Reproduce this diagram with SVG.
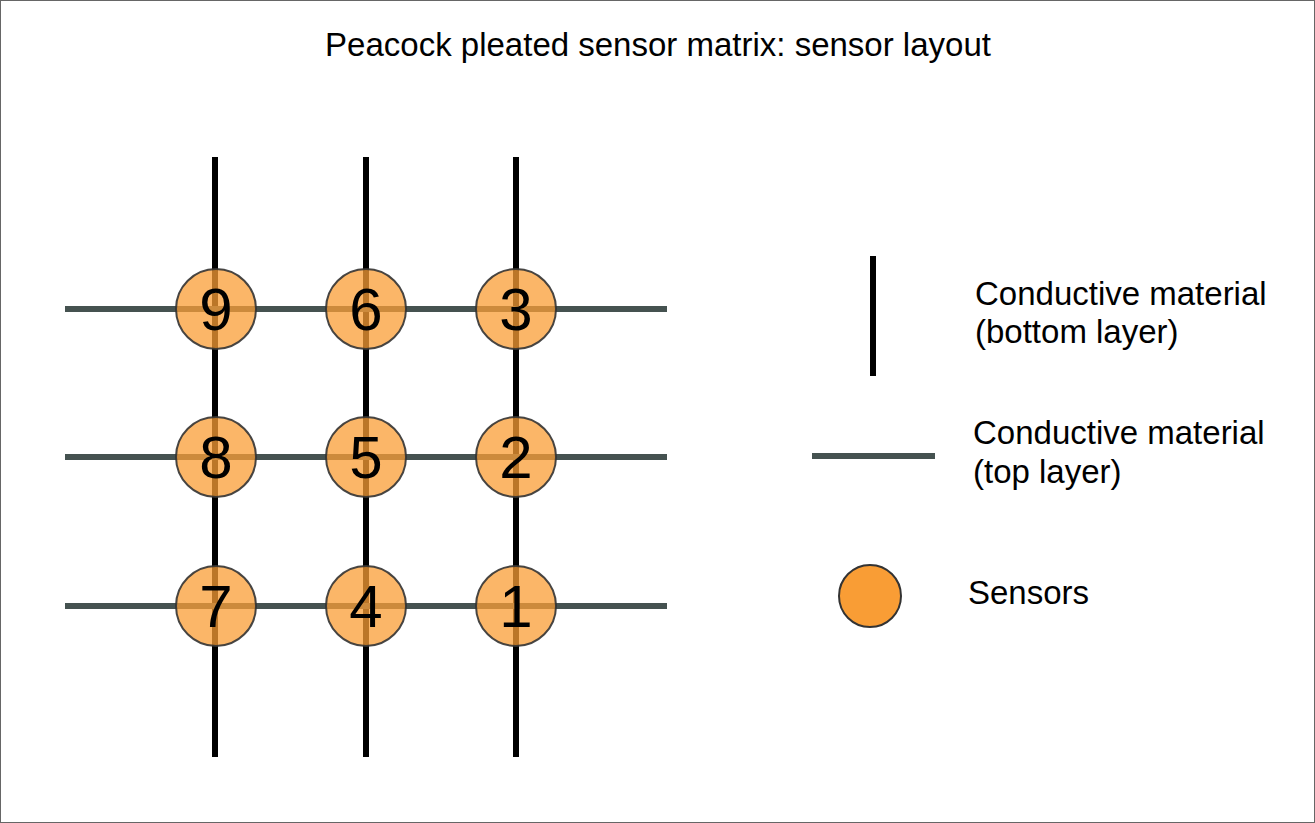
<svg xmlns="http://www.w3.org/2000/svg" width="1315" height="823" viewBox="0 0 1315 823">
<style>
text{font-family:"Liberation Sans",Arial,sans-serif;fill:#000}
.t{font-size:33px}
.d{font-size:60px;text-anchor:middle}
.bot{stroke:#000;stroke-width:6;fill:none}
.top{stroke:#455250;stroke-width:6;fill:none}
.sensor{fill:#f99d35;fill-opacity:0.75;stroke:#333;stroke-width:2;stroke-opacity:0.9}
</style>
<rect x="0.5" y="0.5" width="1314" height="822" fill="#fff" stroke="#666" stroke-width="1"/>
<text id="title" class="t" x="658" y="56" text-anchor="middle">Peacock pleated sensor matrix: sensor layout</text>
<g id="connectors">
<line class="bot" x1="215" y1="157" x2="215" y2="757"/>
<line class="bot" x1="366" y1="157" x2="366" y2="757"/>
<line class="bot" x1="516" y1="157" x2="516" y2="757"/>
<line class="top" x1="65" y1="309" x2="667" y2="309"/>
<line class="top" x1="65" y1="457" x2="667" y2="457"/>
<line class="top" x1="65" y1="606" x2="667" y2="606"/>
</g>
<g id="s9"><circle class="sensor" cx="216" cy="309" r="40"/><text class="d" x="216" y="330">9</text></g>
<g id="s6"><circle class="sensor" cx="366" cy="309" r="40"/><text class="d" x="366" y="330">6</text></g>
<g id="s3"><circle class="sensor" cx="516" cy="309" r="40"/><text class="d" x="516" y="330">3</text></g>
<g id="s8"><circle class="sensor" cx="216" cy="457" r="40"/><text class="d" x="216" y="478">8</text></g>
<g id="s5"><circle class="sensor" cx="366" cy="457" r="40"/><text class="d" x="366" y="478">5</text></g>
<g id="s2"><circle class="sensor" cx="516" cy="457" r="40"/><text class="d" x="516" y="478">2</text></g>
<g id="s7"><circle class="sensor" cx="216" cy="606" r="40"/><text class="d" x="216" y="627">7</text></g>
<g id="s4"><circle class="sensor" cx="366" cy="606" r="40"/><text class="d" x="366" y="627">4</text></g>
<g id="s1"><circle class="sensor" cx="516" cy="606" r="40"/><text class="d" x="516" y="627">1</text></g>
<g id="legend-bottom">
<line class="bot" x1="873" y1="256" x2="873" y2="376"/>
<text class="t" x="975" y="305">Conductive material</text>
<text class="t" x="975" y="343">(bottom layer)</text>
</g>
<g id="legend-top">
<line class="top" x1="812" y1="456" x2="935" y2="456"/>
<text class="t" x="973" y="444">Conductive material</text>
<text class="t" x="973" y="483">(top layer)</text>
</g>
<g id="legend-sensor">
<circle cx="870" cy="596" r="31" fill="#f99d35" stroke="#333" stroke-width="2"/>
<text class="t" x="968" y="604">Sensors</text>
</g>
</svg>
